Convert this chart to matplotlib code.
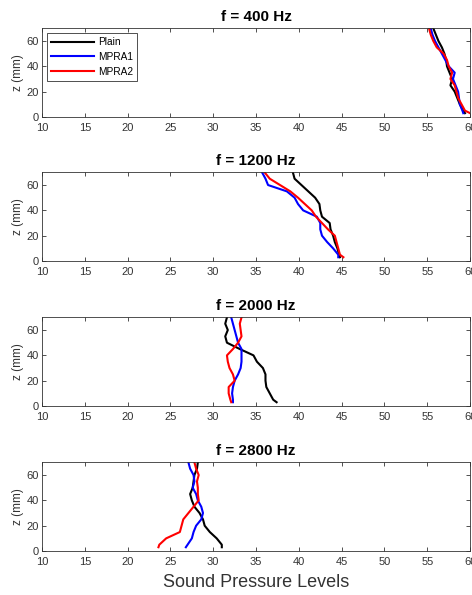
import numpy as np
import matplotlib
matplotlib.use("Agg")
import matplotlib.pyplot as plt

plt.rcParams['font.family'] = ['Liberation Sans', 'DejaVu Sans']

# z positions (mm) for each sampled point
z = [70, 65, 60, 55, 50, 45, 40, 35, 30, 25, 20, 15, 10, 5, 3]

freqs = ["400", "1200", "2000", "2800"]

# 400 Hz
plain_400 = [55.7, 56.0, 56.3, 56.7, 57.0, 57.2, 57.3, 57.6, 57.9, 57.7, 58.2, 58.5, 58.8, 59.2, 59.4]
mpra1_400 = [55.4, 55.6, 55.9, 56.3, 56.7, 57.1, 57.5, 58.2, 58.0, 58.3, 58.6, 58.7, 58.8, 59.1, 59.2]
mpra2_400 = [55.2, 55.4, 55.7, 56.1, 56.9, 57.3, 57.5, 57.9, 57.7, 58.2, 58.4, 58.6, 59.0, 59.4, 60.0]

# 1200 Hz
plain_1200 = [39.3, 39.5, 40.3, 41.1, 41.9, 42.4, 42.5, 42.7, 43.6, 43.7, 44.0, 44.2, 44.5, 44.7, 44.8]
mpra1_1200 = [35.7, 36.1, 36.4, 38.6, 39.5, 39.9, 40.5, 42.1, 42.5, 42.5, 42.7, 43.3, 44.0, 44.6, 44.6]
mpra2_1200 = [36.0, 36.6, 37.8, 39.0, 39.9, 40.7, 41.5, 42.0, 42.7, 43.4, 44.2, 44.4, 44.6, 44.8, 45.2]

# 2000 Hz
plain_2000 = [31.6, 31.4, 31.7, 31.4, 31.6, 33.1, 34.7, 35.1, 35.8, 36.1, 36.1, 36.2, 36.6, 37.0, 37.4]
mpra1_2000 = [32.1, 32.3, 32.5, 32.7, 32.9, 33.3, 33.3, 33.3, 33.2, 32.9, 32.5, 32.3, 32.2, 32.3, 32.3]
mpra2_2000 = [33.3, 33.1, 33.2, 33.3, 32.9, 32.3, 31.6, 31.7, 31.9, 32.3, 32.5, 31.8, 31.8, 32.0, 32.1]

# 2800 Hz
plain_2800 = [28.2, 28.1, 27.8, 27.7, 27.6, 27.3, 27.5, 27.8, 28.4, 28.8, 29.0, 29.6, 30.4, 31.0, 31.0]
mpra1_2800 = [27.1, 27.3, 27.7, 27.8, 27.6, 28.0, 28.2, 28.6, 28.8, 28.6, 28.0, 27.7, 27.5, 27.0, 26.8]
mpra2_2800 = [27.8, 28.0, 28.3, 28.1, 28.2, 28.2, 28.3, 27.7, 27.1, 26.5, 26.3, 26.1, 24.5, 23.7, 23.6]

series = [
    (plain_400, mpra1_400, mpra2_400),
    (plain_1200, mpra1_1200, mpra2_1200),
    (plain_2000, mpra1_2000, mpra2_2000),
    (plain_2800, mpra1_2800, mpra2_2800),
]
names = ["Plain", "MPRA1", "MPRA2"]
colors = ["black", "blue", "red"]

xticks = [10, 15, 20, 25, 30, 35, 40, 45, 50, 55, 60]
yticks = [0, 20, 40, 60]

fig = plt.figure(figsize=(4.72, 5.95), dpi=100)
bottoms = [0.8034, 0.5613, 0.3176, 0.0739]
gray = "#333333"

for i in range(4):
    ax = fig.add_axes([0.089, bottoms[i], 0.907, 0.149])
    for vals, name, c in zip(series[i], names, colors):
        ax.plot(vals, z, color=c, lw=1.5, label=name)
    ax.set_xlim(10, 60)
    ax.set_ylim(0, 70)
    ax.set_xticks(xticks)
    ax.set_yticks(yticks)
    ax.tick_params(direction="in", top=True, right=True, labelsize=8,
                   colors=gray, length=3, width=0.6)
    ax.tick_params(axis="x", pad=4)
    ax.tick_params(axis="y", pad=2)
    for s in ax.spines.values():
        s.set_color(gray)
        s.set_linewidth(0.6)
    ax.set_ylabel("z (mm)", fontsize=8.5, color=gray, labelpad=2)
    ax.set_title("f = " + freqs[i] + " Hz", fontsize=11, fontweight="bold", pad=5)
    if i == 0:
        leg = ax.legend(loc="upper left", fontsize=7.3, fancybox=False,
                        edgecolor="black", handlelength=4.2, borderaxespad=0.45,
                        labelspacing=0.45, borderpad=0.45, handletextpad=0.4)
        leg.get_frame().set_linewidth(0.6)
    if i == 3:
        ax.set_xlabel("Sound Pressure Levels", fontsize=13, color=gray, labelpad=5)

fig.savefig("out.png", dpi=100)
